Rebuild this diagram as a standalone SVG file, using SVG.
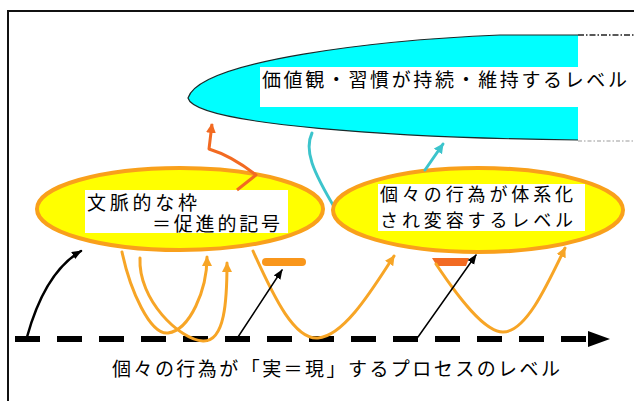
<svg xmlns="http://www.w3.org/2000/svg" width="634" height="401" viewBox="0 0 634 401">
  <style>
    .jp { font-family: "Noto Sans CJK JP", "Noto Sans CJK SC", sans-serif; font-size: 19px; fill: #000; }
    .sm { font-size: 18px; }
    .ell { fill: #ffff00; stroke: #f9a01b; stroke-width: 4; }
    .box { fill: #ffffff; }
    .or { fill: none; stroke: #f7a526; stroke-width: 3; stroke-linecap: round; }
    .blk { fill: none; stroke: #000; stroke-linecap: round; }
    .cy { fill: none; stroke: #3cc4cc; stroke-width: 3; stroke-linecap: round; }
  </style>
  <defs>
    <marker id="mOr" markerUnits="userSpaceOnUse" markerWidth="12" markerHeight="12" refX="9" refY="5" orient="auto">
      <path d="M0,0 L10,5 L0,10 Z" fill="#f7a526"/>
    </marker>
    <marker id="mRed" markerUnits="userSpaceOnUse" markerWidth="12" markerHeight="12" refX="9" refY="5" orient="auto">
      <path d="M0,0 L10,5 L0,10 Z" fill="#f26a22"/>
    </marker>
    <marker id="mCy" markerUnits="userSpaceOnUse" markerWidth="12" markerHeight="12" refX="9" refY="5" orient="auto">
      <path d="M0,0 L10,5 L0,10 Z" fill="#3cc4cc"/>
    </marker>
    <marker id="mBk" markerUnits="userSpaceOnUse" markerWidth="12" markerHeight="12" refX="9" refY="4" orient="auto">
      <path d="M0,0 L10,4 L0,8 Z" fill="#000"/>
    </marker>
  </defs>

  <rect x="0" y="0" width="634" height="401" fill="#fff"/>
  <!-- frame -->
  <path d="M8,401 L8,11 L634,11" fill="none" stroke="#111" stroke-width="2"/>

  <!-- value/habit level -->
  <g id="value-level">
    <path d="M578,35 L500,35 C380,40 200,60 188,98 C195,125 400,138 578,140" fill="#00ffff" stroke="#1a2a2a" stroke-width="1.2"/>
    <line x1="578" y1="35" x2="634" y2="35" stroke="#222" stroke-width="1.5" stroke-dasharray="6 2 1.5 2"/>
    <line x1="578" y1="141" x2="634" y2="141" stroke="#999" stroke-width="1.2" stroke-dasharray="4 2 1.5 2"/>
    <rect class="box" x="260" y="67" width="374" height="40"/>
    <text class="jp" x="262" y="87" textLength="365" lengthAdjust="spacing">価値観・習慣が持続・維持するレベル</text>
  </g>

  <!-- process level -->
  <g id="process-level">
    <line x1="15" y1="339" x2="586" y2="339" stroke="#000" stroke-width="6" stroke-dasharray="25 17"/>
    <polygon points="588,331 610,339 588,347" fill="#000"/>
    <text class="jp" x="112" y="376" textLength="448" lengthAdjust="spacing">個々の行為が「実＝現」するプロセスのレベル</text>
  </g>

  <!-- connectors under ellipses -->
  <g id="connectors-back">
    <path class="cy" d="M312,133 C304,150 312,170 336,210"/>
  </g>

  <!-- context frame -->
  <g id="context-frame">
    <ellipse class="ell" cx="180" cy="209" rx="143" ry="41"/>
    <rect class="box" x="85" y="190" width="203" height="43"/>
    <text class="jp" x="87" y="210" textLength="110" lengthAdjust="spacing">文脈的な枠</text>
    <text class="jp" x="152" y="231" textLength="128" lengthAdjust="spacing">＝促進的記号</text>
  </g>

  <!-- systematization level -->
  <g id="system-level">
    <ellipse class="ell" cx="478" cy="210" rx="145" ry="42"/>
    <rect class="box" x="378" y="184" width="207" height="47"/>
    <text class="jp sm" x="380" y="201" textLength="193" lengthAdjust="spacing">個々の行為が体系化</text>
    <text class="jp sm" x="380" y="227" textLength="193" lengthAdjust="spacing">され変容するレベル</text>
  </g>

  <!-- bars -->
  <g id="bar1">
    <line x1="266" y1="262" x2="302" y2="262" stroke="#f9961b" stroke-width="8" stroke-linecap="round"/>
  </g>
  <g id="bar2">
    <polygon points="432,258 469,258 466,266 437,266" fill="#f26a22"/>
  </g>

  <!-- connectors -->
  <g id="connectors">
    <path d="M237,190 L256,175 Q232,156 209,149 L212,124" fill="none" stroke="#f26a22" stroke-width="3" stroke-linejoin="round" marker-end="url(#mRed)"/>
    <path class="cy" d="M425,170 L443,144" marker-end="url(#mCy)"/>
    <path class="or" d="M122,252 C130,290 150,335 168,333 C190,330 207,290 207,257" marker-end="url(#mOr)"/>
    <path class="or" d="M140,258 C138,300 180,340 203,341 C225,342 227,300 227,263" marker-end="url(#mOr)"/>
    <path class="or" d="M253,251 C275,300 295,340 318,338 C345,336 375,285 394,256" marker-end="url(#mOr)"/>
    <path class="or" d="M436,264 C460,300 485,332 503,332 C525,332 545,290 565,248" marker-end="url(#mOr)"/>
    <path class="blk" stroke-width="2.5" d="M27,337 Q45,272 81,251" marker-end="url(#mBk)"/>
    <path class="blk" stroke-width="1.5" d="M238,337 L282,270" marker-end="url(#mBk)"/>
    <path class="blk" stroke-width="1.5" d="M418,337 L476,255" marker-end="url(#mBk)"/>
  </g>
</svg>
